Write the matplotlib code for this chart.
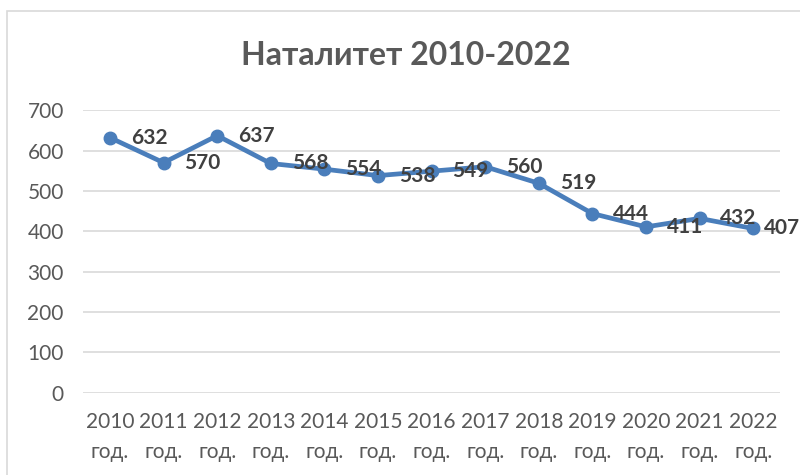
import matplotlib
matplotlib.use('Agg')
import matplotlib.pyplot as plt
from matplotlib.patches import Rectangle

# Data
years = ['2010', '2011', '2012', '2013', '2014', '2015', '2016',
         '2017', '2018', '2019', '2020', '2021', '2022']
births = [632, 570, 637, 568, 554, 538, 549, 560, 519, 444, 411, 432, 407]
title = 'Наталитет 2010-2022'

plt.rcParams['font.family'] = ['Lato', 'DejaVu Sans']

line_color = '#4a7ebb'
text_gray = '#595959'
grid_gray = '#d9d9d9'

fig = plt.figure(figsize=(8, 4.75), dpi=100)
ax = fig.add_axes([0.104, 0.173, 0.871, 0.595])

x = list(range(len(years)))
ax.plot(x, births, color=line_color, linewidth=3.4, marker='o',
        markersize=9, zorder=3)

for xi, v in zip(x, births):
    # last label is pushed closer so it stays inside the chart
    dx = 15 if xi < len(years) - 1 else 7.5
    ax.annotate(str(v), (xi, v), xytext=(dx, 0), textcoords='offset points',
                ha='left', va='center', fontsize=15, fontweight='bold',
                color='#404040', zorder=4)

ax.set_xlim(-0.5, len(years) - 0.5)
ax.set_ylim(0, 700)
ax.set_yticks(range(0, 701, 100))
ax.set_xticks(x)
ax.set_xticklabels([y + '\nгод.' for y in years], linespacing=1.6)

ax.grid(axis='y', color=grid_gray, linewidth=1.2)
ax.set_axisbelow(True)
for s in ax.spines.values():
    s.set_visible(False)
ax.tick_params(axis='both', length=0, labelsize=15, labelcolor=text_gray)
ax.tick_params(axis='y', pad=14)
ax.tick_params(axis='x', pad=14)

fig.text(0.507, 0.884, title, ha='center', va='center', fontsize=23,
         fontweight='bold', color=text_gray)

# chart area border
fig.patches.append(Rectangle((7 / 800, -0.1), 1.2, 1 - 11 / 475 + 0.1,
                             transform=fig.transFigure, fill=False,
                             edgecolor=grid_gray, linewidth=1.2))

fig.savefig('out.png', dpi=100)
